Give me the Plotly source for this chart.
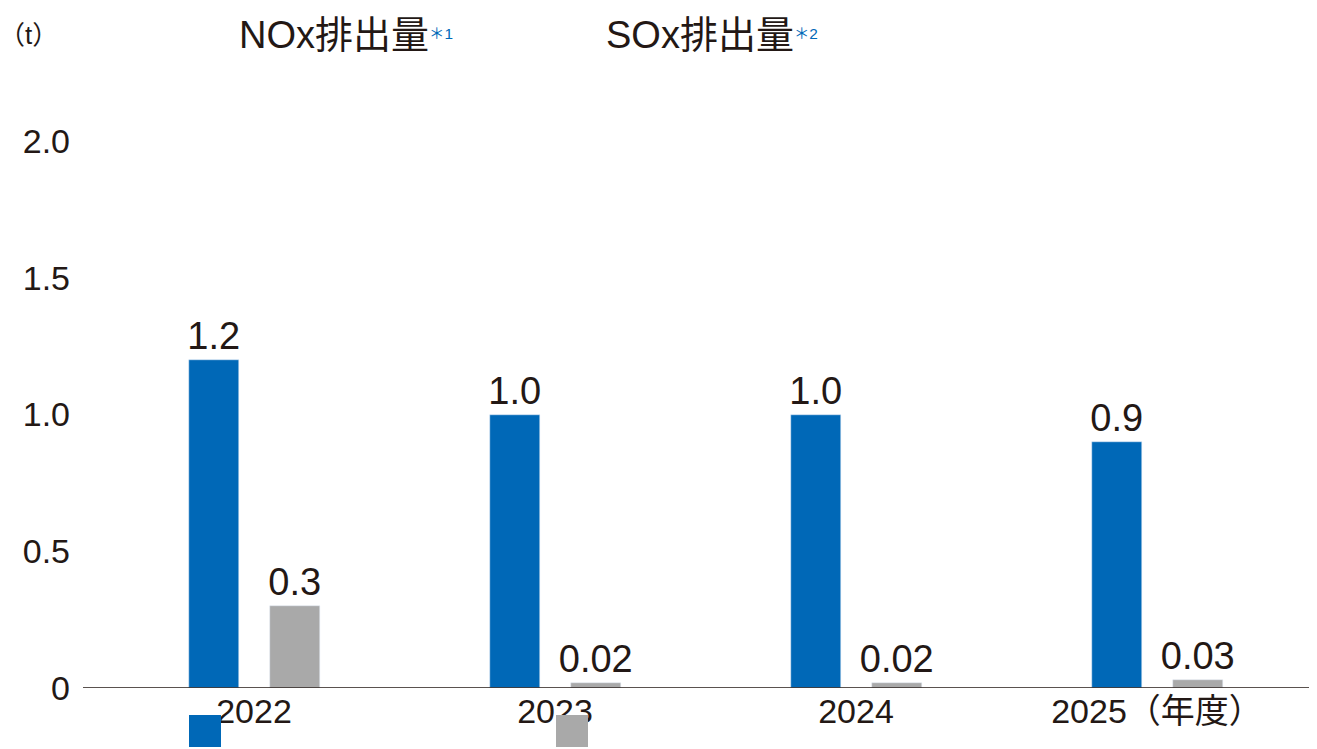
import plotly.graph_objects as go

years = ["2022", "2023", "2024", "2025（年度）"]
nox = [1.2, 1.0, 1.0, 0.9]
sox = [0.3, 0.02, 0.02, 0.03]
nox_labels = ["1.2", "1.0", "1.0", "0.9"]
sox_labels = ["0.3", "0.02", "0.02", "0.03"]
y_ticks = [0, 0.5, 1.0, 1.5, 2.0]
y_tick_text = ["0", "0.5", "1.0", "1.5", "2.0"]

BLUE = "#0068b7"
GREY = "#a9a9a9"
INK = "#231815"
FONT = "Liberation Sans, Noto Sans CJK JP"

xs = list(range(len(years)))

fig = go.Figure()
fig.add_trace(go.Bar(
    x=xs, y=nox, width=0.166, offset=-0.216, marker_color=BLUE,
    text=nox_labels, textposition="outside", cliponaxis=False, constraintext="none",
    textfont=dict(size=38, color=INK),
))
fig.add_trace(go.Bar(
    x=xs, y=sox, width=0.166, offset=0.053, marker_color=GREY,
    text=sox_labels, textposition="outside", cliponaxis=False, constraintext="none",
    textfont=dict(size=38, color=INK),
))

fig.update_layout(
    width=1317, height=749,
    margin=dict(l=75, r=7, t=133, b=69),
    paper_bgcolor="white", plot_bgcolor="white",
    font=dict(family=FONT, color=INK, size=34),
    showlegend=False,
    xaxis=dict(range=[-0.568, 3.535], tickvals=xs, ticktext=years, showgrid=False,
               showline=False, zeroline=False, ticks="", tickfont=dict(size=34)),
    yaxis=dict(range=[0, 2.0], tickvals=y_ticks, ticktext=y_tick_text, showgrid=False,
               zeroline=False, showline=False, ticks="", tickfont=dict(size=34),
               ticklabelstandoff=12),
    bargap=0,
)
fig.add_shape(type="line", xref="paper", yref="y", x0=0, x1=1, y0=0, y1=0,
              line=dict(color=INK, width=1.5))

# legend drawn by hand at the top
for x0, col, name, mark in [(181, BLUE, "NOx排出量", "＊1"), (548, GREY, "SOx排出量", "＊2")]:
    fig.add_shape(type="rect", xref="paper", yref="paper",
                  x0=(x0 - 75) / 1235, x1=(x0 + 32 - 75) / 1235,
                  y0=(749 - 69 - (749 - 42)) / 547 + 0, y1=(749 - 69 - (749 - 10)) / 547,
                  fillcolor=col, line_width=0)
    fig.add_annotation(
        text=f"{name}<span style='color:{BLUE};font-size:22px'><sup>{mark}</sup></span>",
        xref="paper", yref="paper", x=(x0 + 48 - 75) / 1235, y=(680 - 27) / 547 + 0,
        xanchor="left", yanchor="middle", showarrow=False,
        font=dict(size=38, color=INK),
    )
fig.add_annotation(text="（t）", xref="paper", yref="paper", x=-0.07, y=(680 - 27) / 547,
                   xanchor="left", yanchor="middle", showarrow=False,
                   font=dict(size=26, color=INK))

fig.write_html("out.html")
